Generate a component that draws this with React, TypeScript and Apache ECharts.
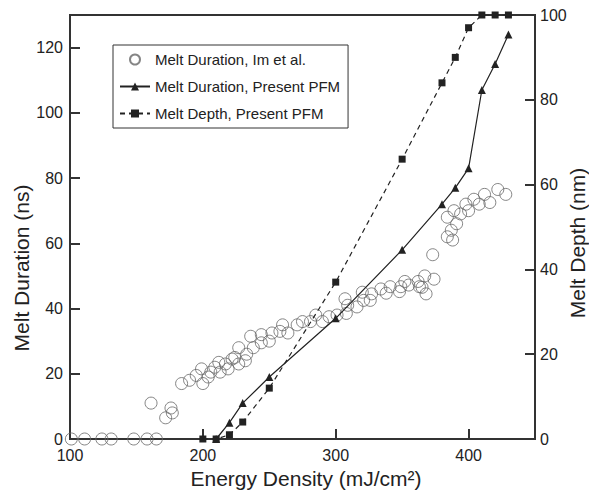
import React, { useEffect, useRef } from "react";
import * as echarts from "echarts";

// Melt Duration, Im et al. (circles) — energy density (mJ/cm²) and duration (ns)
const imEnergy = [
  101, 111, 124, 131, 148, 158, 165,
  161, 172, 176, 177,
  184, 190, 195, 199, 200, 204, 206, 209, 212, 213, 217, 219, 222, 224, 227, 227, 232, 233, 236, 238, 244, 244, 250,
  252, 258, 260, 264, 271, 275, 281, 285,
  290, 295, 301, 307, 309, 308, 316, 320, 321, 327, 326, 334, 338, 341, 348, 349, 352, 355, 362, 363,
  365, 367, 368, 374, 373, 384, 384, 388, 387, 391, 389, 394, 398, 400, 404, 408, 412, 416, 422, 428,
];
const imDuration = [
  0, 0, 0, 0, 0, 0, 0,
  11, 6.5, 9.5, 8,
  17, 18, 19.5, 21.5, 17, 19, 20.5, 22, 23.5, 20.5, 23, 21.5, 24.5, 25, 28, 23, 24, 26, 31.5, 28, 32, 29.5, 30,
  32.5, 33, 35, 32.5, 35, 36, 36, 38,
  36, 37.5, 38, 43, 41, 38.5, 40.5, 45, 42.5, 44.5, 42.5, 46, 44.7, 46.7, 45.2, 46.7, 48.3, 47.2, 48.3, 46.7,
  46.5, 50, 44.5, 49, 56.5, 62, 68, 61, 64, 66, 70, 69, 72, 70, 73.5, 72, 75, 72.5, 76.5, 75,
];

// Melt Duration, Present PFM (triangles, left axis)
const pfmEnergy = [210, 220, 230, 250, 300, 350, 380, 390, 400, 410, 420, 430];
const pfmDuration = [0, 5, 11, 19, 37, 58, 72, 77, 83, 107, 115, 124];

// Melt Depth, Present PFM (squares, right axis)
const depthEnergy = [200, 210, 220, 230, 250, 300, 350, 380, 390, 400, 410, 420, 430];
const depthValues = [0, 0, 1, 4, 12, 37, 66, 84, 90, 97, 100, 100, 100];

const seriesNames = [
  "Melt Duration, Im et al.",
  "Melt Duration, Present PFM",
  "Melt Depth, Present PFM",
];

const xTitle = "Energy Density (mJ/cm²)";
const yLeftTitle = "Melt Duration (ns)";
const yRightTitle = "Melt Depth (nm)";

const FONT = "Liberation Sans, Arial, Helvetica, sans-serif";
const INK = "#222";

export default function App() {
  const ref = useRef<HTMLDivElement>(null);

  useEffect(() => {
    document.body.style.margin = "0";
    if (!ref.current) return;
    const chart = echarts.init(ref.current, null, { renderer: "svg" });

    const zip = (xs: number[], ys: number[]) => xs.map((x, i) => [x, ys[i]]);

    const axisLine = { show: true, lineStyle: { color: "#333", width: 2 } };
    const axisTick = { show: true, inside: true, length: 10, lineStyle: { color: "#333", width: 2 } };
    const axisLabel = { color: INK, fontSize: 16, fontFamily: FONT };
    const titleFont = `21px ${FONT}`;

    chart.setOption({
      animation: false,
      backgroundColor: "#fff",
      textStyle: { fontFamily: FONT },
      grid: {
        left: 70,
        right: 54,
        top: 15,
        bottom: 53,
        show: true,
        borderColor: "#333",
        borderWidth: 2,
        backgroundColor: "transparent",
      },
      legend: {
        orient: "vertical",
        left: 113,
        top: 45,
        data: seriesNames,
        itemWidth: 30,
        itemHeight: 10,
        itemGap: 12,
        padding: [7, 8, 7, 6],
        borderColor: "#333",
        borderWidth: 1,
        textStyle: { color: INK, fontSize: 15, fontFamily: FONT },
      },
      graphic: [
        {
          type: "text",
          x: 306,
          y: 478,
          style: {
            text: xTitle,
            font: titleFont,
            fill: INK,
            textAlign: "center",
            textVerticalAlign: "middle",
          },
        },
        {
          type: "text",
          x: 21,
          y: 268,
          rotation: Math.PI / 2,
          style: {
            text: yLeftTitle,
            font: titleFont,
            fill: INK,
            textAlign: "center",
            textVerticalAlign: "middle",
          },
        },
        {
          type: "text",
          x: 577,
          y: 243,
          rotation: Math.PI / 2,
          style: {
            text: yRightTitle,
            font: titleFont,
            fill: INK,
            textAlign: "center",
            textVerticalAlign: "middle",
          },
        },
      ],
      xAxis: {
        type: "value",
        min: 100,
        max: 450,
        interval: 100,
        axisLine,
        axisTick,
        axisLabel: { ...axisLabel, margin: 8, showMaxLabel: false },
        splitLine: { show: false },
      },
      yAxis: [
        {
          type: "value",
          min: 0,
          max: 130,
          interval: 20,
          axisLine,
          axisTick,
          axisLabel: { ...axisLabel, margin: 7, showMaxLabel: false },
          splitLine: { show: false },
        },
        {
          type: "value",
          min: 0,
          max: 100,
          interval: 20,
          position: "right",
          axisLine,
          axisTick,
          axisLabel: { ...axisLabel, margin: 5 },
          splitLine: { show: false },
        },
      ],
      series: [
        {
          name: seriesNames[0],
          type: "scatter",
          yAxisIndex: 0,
          symbol: "circle",
          symbolSize: 12,
          itemStyle: { color: "rgba(0,0,0,0)", borderColor: "#666", borderWidth: 1 },
          data: zip(imEnergy, imDuration),
          z: 2,
        },
        {
          name: seriesNames[1],
          type: "line",
          yAxisIndex: 0,
          symbol: "triangle",
          symbolSize: 8,
          color: "#222",
          itemStyle: { color: "#222" },
          lineStyle: { color: "#222", width: 1.2 },
          data: zip(pfmEnergy, pfmDuration),
          z: 3,
        },
        {
          name: seriesNames[2],
          type: "line",
          yAxisIndex: 1,
          symbol: "rect",
          symbolSize: 7,
          color: "#222",
          itemStyle: { color: "#222" },
          lineStyle: { color: "#222", width: 1.2, type: [5, 4] },
          data: zip(depthEnergy, depthValues),
          z: 3,
        },
      ],
    });

    return () => chart.dispose();
  }, []);

  return <div ref={ref} style={{ width: 589, height: 492 }} />;
}
